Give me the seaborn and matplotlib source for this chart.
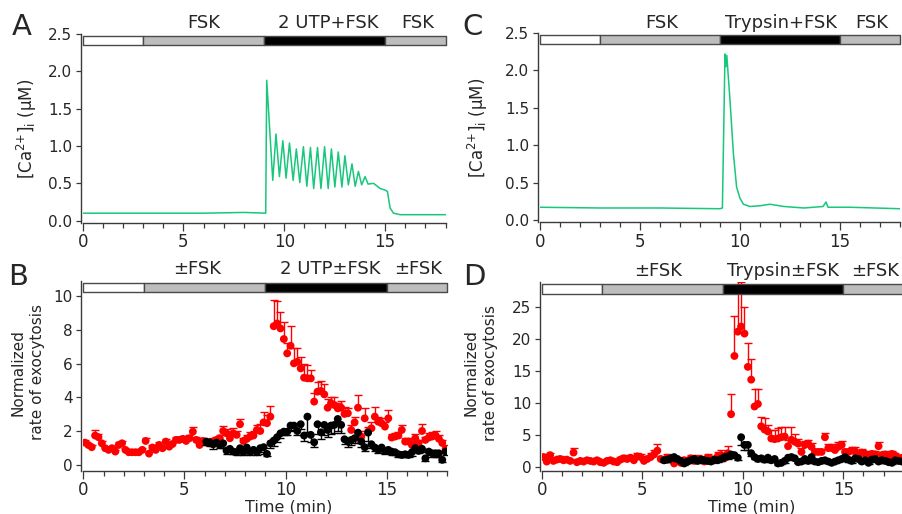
import numpy as np
import matplotlib
matplotlib.use("Agg")
import matplotlib.pyplot as plt
import seaborn as sns

# ---------------- data ----------------
# Panel A : [Ca2+]i trace, UTP + FSK
a_time = [0, 2, 4, 6, 8, 9.08, 9.13, 9.43, 9.59, 9.76, 9.93, 10.09, 10.26, 10.44, 10.6, 10.77,
          10.95, 11.12, 11.3, 11.46, 11.65, 11.82, 12.0, 12.18, 12.34, 12.51, 12.68, 12.86,
          13.01, 13.18, 13.36, 13.52, 13.68, 13.84, 14.01, 14.16, 14.43, 14.76, 15.0, 15.12,
          15.25, 15.42, 15.75, 18]
a_ca = [0.10, 0.10, 0.10, 0.10, 0.11, 0.10, 1.88, 0.54, 1.16, 0.59, 1.07, 0.57, 1.04, 0.54,
        0.96, 0.51, 0.99, 0.46, 0.98, 0.43, 0.98, 0.43, 0.99, 0.43, 0.96, 0.45, 0.92, 0.45,
        0.87, 0.48, 0.76, 0.46, 0.66, 0.48, 0.59, 0.49, 0.50, 0.43, 0.41, 0.39, 0.17, 0.10,
        0.08, 0.08]

# Panel C : [Ca2+]i trace, Trypsin + FSK
c_time = [0, 3, 6, 9.0, 9.12, 9.25, 9.3, 9.34, 9.5, 9.67, 9.83, 10.0, 10.17, 10.5, 11.0,
          11.5, 12.2, 13.2, 14.15, 14.3, 14.4, 15.5, 18]
c_ca = [0.17, 0.16, 0.16, 0.15, 0.16, 2.22, 2.05, 2.20, 1.60, 0.89, 0.44, 0.29, 0.21, 0.18,
        0.19, 0.21, 0.18, 0.16, 0.18, 0.24, 0.17, 0.17, 0.15]

# sampling grid of the exocytosis measurements (10 s bins)
bin_start, bin_step, n_bins = 1 / 12, 1 / 6, 108
t_bins = bin_start + bin_step * np.arange(n_bins)
black_first = 36  # black series starts at ~6 min

# Panel B : normalized rate of exocytosis (UTP)
b_red = [1.32, 1.18, 1.05, 1.74, 1.64, 1.28, 0.99, 0.89, 0.99, 0.79, 1.18, 1.28, 0.89, 0.75,
         0.75, 0.75, 0.75, 0.89, 1.42, 0.67, 1.03, 0.89, 1.18, 0.99, 1.38, 1.08, 1.24, 1.48,
         1.48, 1.54, 1.42, 1.58, 1.97, 1.48, 1.18, 1.42, 1.32, 1.28, 1.38, 1.48, 1.58, 2.01,
         1.87, 1.58, 1.87, 1.78, 2.41, 1.42, 1.54, 1.68, 1.74, 2.07, 2.01, 2.52, 2.47, 2.86,
         8.22, 8.38, 8.09, 7.46, 6.61, 7.06, 6.02, 6.11, 5.72, 5.17, 5.13, 5.13, 3.75, 4.34,
         4.38, 4.18, 3.39, 3.65, 3.55, 3.35, 3.39, 3.02, 3.06, 2.07, 2.52, 3.39, 1.68, 2.76,
         1.97, 2.17, 2.86, 2.56, 2.47, 2.27, 2.76, 1.62, 1.68, 1.74, 2.07, 1.38, 1.38, 1.18,
         1.58, 1.28, 2.01, 1.48, 1.62, 1.68, 1.75, 1.55, 1.30, 0.95]
b_red_err = [0.15, 0.10, 0.10, 0.30, 0.20, 0.15, 0.10, 0.10, 0.10, 0.10, 0.15, 0.15, 0.10, 0.10,
             0.10, 0.10, 0.10, 0.10, 0.15, 0.10, 0.15, 0.10, 0.15, 0.10, 0.15, 0.15, 0.15, 0.20,
             0.20, 0.20, 0.20, 0.20, 0.25, 0.20, 0.15, 0.20, 0.20, 0.20, 0.20, 0.20, 0.20, 0.30,
             0.25, 0.20, 0.30, 0.25, 0.30, 0.20, 0.25, 0.25, 0.25, 0.30, 0.40, 0.60, 0.50, 0.65,
             1.54, 1.32, 1.00, 1.00, 0.60, 1.20, 0.90, 0.80, 0.70, 0.80, 0.80, 0.50, 0.50, 0.60,
             0.60, 0.60, 0.50, 0.40, 0.50, 0.30, 0.40, 0.40, 0.30, 0.30, 0.30, 0.75, 0.30, 0.60,
             0.30, 0.40, 0.55, 0.30, 0.30, 0.30, 0.50, 0.20, 0.20, 0.20, 0.30, 0.20, 0.20, 0.20,
             0.25, 0.20, 0.40, 0.20, 0.25, 0.25, 0.25, 0.20, 0.20, 0.20]
b_black = [1.38, 1.34, 1.22, 1.32, 1.18, 1.28, 0.85, 0.95, 0.79, 0.75, 0.99, 0.75, 1.03, 0.75,
           0.89, 0.75, 0.99, 1.05, 0.65, 1.28, 1.44, 1.64, 1.87, 1.97, 1.97, 2.33, 2.33, 2.01,
           2.41, 1.74, 2.86, 1.78, 1.34, 2.41, 1.93, 2.37, 2.07, 2.33, 2.37, 2.72, 2.37, 1.52,
           1.38, 1.48, 1.58, 1.91, 1.38, 1.05, 1.91, 1.22, 1.03, 0.89, 1.03, 0.83, 0.89, 0.79,
           0.75, 0.63, 0.59, 0.63, 0.59, 0.75, 0.99, 0.83, 0.95, 0.39, 0.79, 0.69, 0.69, 0.69,
           0.30, 0.79]
b_black_err = [0.20, 0.20, 0.25, 0.20, 0.20, 0.25, 0.20, 0.20, 0.15, 0.15, 0.20, 0.15, 0.20, 0.15,
               0.15, 0.15, 0.20, 0.40, 0.15, 0.30, 0.30, 0.30, 0.25, 0.20, 0.20, 0.30, 0.25, 0.25,
               0.30, 0.30, 0.90, 0.40, 0.30, 0.60, 0.40, 0.60, 0.40, 0.50, 0.50, 0.70, 0.50, 0.30,
               0.30, 0.30, 0.30, 0.60, 0.30, 0.20, 0.50, 0.20, 0.20, 0.20, 0.20, 0.20, 0.20, 0.20,
               0.15, 0.15, 0.15, 0.15, 0.15, 0.20, 0.20, 0.15, 0.20, 0.15, 0.20, 0.20, 0.20, 0.20,
               0.15, 0.20]

# Panel D : normalized rate of exocytosis (Trypsin)
d_red = [1.5, 0.8, 1.8, 0.9, 1.1, 1.2, 1.0, 1.1, 0.9, 2.2, 0.7, 0.9, 0.8, 1.0, 0.9, 0.8,
         1.0, 0.7, 0.6, 0.9, 1.0, 0.8, 0.7, 1.1, 1.3, 1.2, 1.4, 1.0, 1.6, 1.5, 0.9, 1.2,
         1.5, 1.9, 2.5, 1.2, 1.0, 1.4, 1.1, 0.5, 0.9, 0.6, 1.0, 0.8, 1.3, 0.9, 1.2, 1.1,
         0.8, 1.4, 1.2, 1.0, 1.6, 1.8, 1.3, 2.1, 8.2, 17.3, 21.1, 21.9, 20.8, 15.6, 13.6, 9.4,
         9.8, 6.3, 5.8, 5.5, 4.4, 4.3, 4.4, 4.6, 4.7, 3.2, 4.2, 3.9, 3.6, 2.3, 3.4, 3.6,
         3.1, 2.3, 2.3, 2.3, 4.6, 2.9, 2.9, 2.6, 3.1, 3.4, 2.3, 2.3, 2.5, 2.4, 1.8, 2.2,
         2.0, 1.6, 2.0, 1.9, 3.2, 1.8, 1.9, 1.5, 2.0, 1.7, 1.3, 1.4]
d_red_err = [0.5, 0.3, 0.4, 0.3, 0.3, 0.4, 0.3, 0.3, 0.3, 0.7, 0.3, 0.3, 0.3, 0.3, 0.3, 0.3,
             0.3, 0.3, 0.3, 0.3, 0.3, 0.3, 0.3, 0.4, 0.5, 0.4, 0.5, 0.4, 0.6, 0.5, 0.3, 0.4,
             0.6, 0.7, 1.0, 0.5, 0.4, 0.6, 0.5, 0.3, 0.4, 0.3, 0.5, 0.4, 0.6, 0.4, 0.6, 0.5,
             0.4, 0.6, 0.5, 0.4, 0.7, 0.8, 0.6, 1.2, 3.2, 6.2, 8.0, 7.0, 4.1, 3.8, 3.3, 2.8,
             2.4, 1.4, 1.8, 1.0, 1.3, 1.5, 1.6, 1.6, 1.5, 1.0, 2.0, 1.2, 0.8, 0.6, 0.6, 0.6,
             0.6, 0.5, 0.5, 0.5, 0.6, 0.6, 0.6, 0.6, 0.8, 0.6, 0.5, 0.5, 0.6, 0.6, 0.5, 0.6,
             0.5, 0.4, 0.5, 0.5, 0.6, 0.5, 0.5, 0.4, 0.5, 0.4, 0.4, 0.4]
d_black = [1.0, 1.1, 1.3, 1.5, 1.2, 0.9, 0.5, 0.8, 1.0, 1.2, 0.9, 1.1, 1.0, 0.9, 0.8, 1.1,
           1.0, 1.2, 1.5, 1.6, 1.9, 1.8, 1.4, 4.6, 3.4, 3.4, 2.1, 1.5, 1.2, 1.3, 1.1, 1.4,
           1.0, 1.2, 0.5, 0.6, 0.9, 1.4, 1.5, 1.3, 0.7, 0.8, 1.2, 0.9, 1.5, 0.8, 0.7, 0.9,
           1.0, 0.8, 0.6, 0.8, 1.0, 1.2, 1.5, 1.1, 0.9, 1.3, 1.2, 0.8, 1.0, 0.6, 1.1, 1.2,
           0.8, 1.0, 0.9, 0.7, 0.6, 1.0, 0.9, 0.8]
d_black_err = [0.3, 0.3, 0.3, 0.3, 0.3, 0.3, 0.2, 0.3, 0.3, 0.3, 0.3, 0.3, 0.3, 0.3, 0.3, 0.3,
               0.3, 0.3, 0.3, 0.4, 0.4, 0.4, 0.4, 1.2, 0.8, 0.8, 0.5, 0.3, 0.3, 0.3, 0.3, 0.3,
               0.3, 0.3, 0.2, 0.2, 0.3, 0.3, 0.3, 0.3, 0.2, 0.2, 0.3, 0.3, 0.3, 0.2, 0.2, 0.3,
               0.3, 0.2, 0.2, 0.2, 0.3, 0.3, 0.3, 0.3, 0.3, 0.3, 0.3, 0.2, 0.3, 0.2, 0.3, 0.3,
               0.2, 0.3, 0.3, 0.2, 0.2, 0.3, 0.3, 0.2]

# stimulation protocol bar
bar_edges = [0, 3, 9, 15, 18]
bar_colors = ["white", "#bdbdbd", "black", "#bdbdbd"]
labels_A = ["FSK", "2 UTP+FSK", "FSK"]
labels_B = ["\u00b1FSK", "2 UTP\u00b1FSK", "\u00b1FSK"]
labels_C = ["FSK", "Trypsin+FSK", "FSK"]
labels_D = ["\u00b1FSK", "Trypsin\u00b1FSK", "\u00b1FSK"]
label_pos_AB = [6.0, 12.2, 16.6]
label_pos_CD = [6.1, 12.05, 16.6]

# ---------------- style ----------------
sns.set_style("ticks")
plt.rcParams["font.family"] = ["DejaVu Sans"]
plt.rcParams["mathtext.fontset"] = "dejavusans"
AX_COL = "#3a3a3a"
GREEN = "#17c77b"
RED = "#ff0000"

W, H = 902, 514
fig = plt.figure(figsize=(W / 100, H / 100), dpi=100)


def px_axes(left, right, top, bottom):
    return fig.add_axes([left / W, 1 - bottom / H, (right - left) / W, (bottom - top) / H])


axA = px_axes(82.7, 445.5, 34.0, 222.9)
axC = px_axes(540.0, 900.0, 33.0, 222.2)
axB = px_axes(83.3, 447.3, 281.0, 470.8)
axD = px_axes(541.7, 903.7, 282.4, 470.5)


def style_axis(ax, ylim, yticks, yfmt):
    ax.set_xlim(0, 18)
    ax.set_ylim(*ylim)
    ax.set_xticks([0, 5, 10, 15])
    ax.set_xticks(range(0, 19), minor=True)
    ax.set_yticks(yticks)
    ax.set_yticklabels([yfmt.format(v) for v in yticks])
    for s in ["top", "right"]:
        ax.spines[s].set_visible(False)
    for s in ["left", "bottom"]:
        ax.spines[s].set_color(AX_COL)
        ax.spines[s].set_linewidth(1.0)
    ax.spines["left"].set_position(("outward", 1.5))
    ax.tick_params(axis="x", which="major", direction="out", length=6, width=0.9,
                   color=AX_COL, labelsize=12, pad=1.5)
    ax.tick_params(axis="x", which="minor", direction="out", length=3.6, width=0.9,
                   color=AX_COL)
    ax.tick_params(axis="y", which="major", direction="out", length=3.6, width=0.9,
                   color=AX_COL, labelsize=11, pad=2.5)
    # protocol bar
    segs = [(bar_edges[i], bar_edges[i + 1] - bar_edges[i]) for i in range(len(bar_colors))]
    ax.broken_barh(segs, (0.94, 0.052), facecolors=bar_colors, edgecolor="#4a4a4a",
                   linewidth=1.0, transform=ax.get_xaxis_transform(), clip_on=False, zorder=5)


def annotate(ax, labels, positions, yfrac):
    for lab, x in zip(labels, positions):
        ax.annotate(lab, xy=(x, yfrac), xycoords=("data", "axes fraction"), ha="center",
                    va="baseline", fontsize=13, annotation_clip=False)


# ---- Ca traces ----
for ax, t, ca, labs, pos, yf in [(axA, a_time, a_ca, labels_A, label_pos_AB, 1.032),
                                 (axC, c_time, c_ca, labels_C, label_pos_CD, 1.025)]:
    sns.lineplot(x=t, y=ca, ax=ax, color=GREEN, linewidth=1.1)
    style_axis(ax, (-0.03, 2.5), [0, 0.5, 1.0, 1.5, 2.0, 2.5], "{:.1f}")
    ax.set_ylabel(r"[Ca$^{2{+}}$]$_{\mathrm{i}}$ (μM)", fontsize=12)
    ax.yaxis.label.set_va("center")
    annotate(ax, labs, pos, yf)
axA.yaxis.set_label_coords(-0.154, 0.5)
axC.yaxis.set_label_coords(-0.172, 0.5)


# ---- exocytosis panels ----
def exo_panel(ax, red, red_err, black, black_err):
    t_black = t_bins[black_first:]
    # red: upward error bars
    eb = ax.errorbar(t_bins, red, yerr=[np.zeros(len(red)), red_err], fmt="none",
                     ecolor=RED, elinewidth=1.0, capsize=2.6, capthick=1.0, zorder=2)
    eb[1][0].set_visible(False)
    sns.scatterplot(x=t_bins, y=red, ax=ax, color=RED, s=32, edgecolor="none", zorder=3)
    # black: downward error bars
    eb = ax.errorbar(t_black, black, yerr=[black_err, np.zeros(len(black))], fmt="none",
                     ecolor="black", elinewidth=1.0, capsize=2.6, capthick=1.0, zorder=4)
    eb[1][1].set_visible(False)
    sns.scatterplot(x=t_black, y=black, ax=ax, color="black", s=32, edgecolor="none",
                    zorder=5)


exo_panel(axB, b_red, b_red_err, b_black, b_black_err)
style_axis(axB, (-0.35, 10.9), [0, 2, 4, 6, 8, 10], "{:d}")
annotate(axB, labels_B, [5.65, 12.2, 16.55], 1.036)

exo_panel(axD, d_red, d_red_err, d_black, d_black_err)
style_axis(axD, (-0.6, 28.8), [0, 5, 10, 15, 20, 25], "{:d}")
annotate(axD, labels_D, [5.8, 12.0, 16.6], 1.034)

for ax, xc, lx, ly in [(axB, -0.152, 0.565, -0.215), (axD, -0.168, 0.58, -0.219)]:
    ax.set_ylabel("Normalized\nrate of exocytosis", fontsize=11, linespacing=1.35)
    ax.yaxis.label.set_va("center")
    ax.yaxis.set_label_coords(xc, 0.52)
    ax.set_xlabel("Time (min)", fontsize=11.5)
    ax.xaxis.label.set_va("baseline")
    ax.xaxis.set_label_coords(lx, ly)

for ax in [axA, axC]:
    ax.set_xlabel("")

# panel letters
for letter, x, yb in [("A", 12, 35), ("B", 8, 285), ("C", 462, 35), ("D", 463, 285)]:
    fig.text(x / W, 1 - yb / H, letter, fontsize=21, ha="left", va="baseline")

fig.savefig("out.png", dpi=100)
